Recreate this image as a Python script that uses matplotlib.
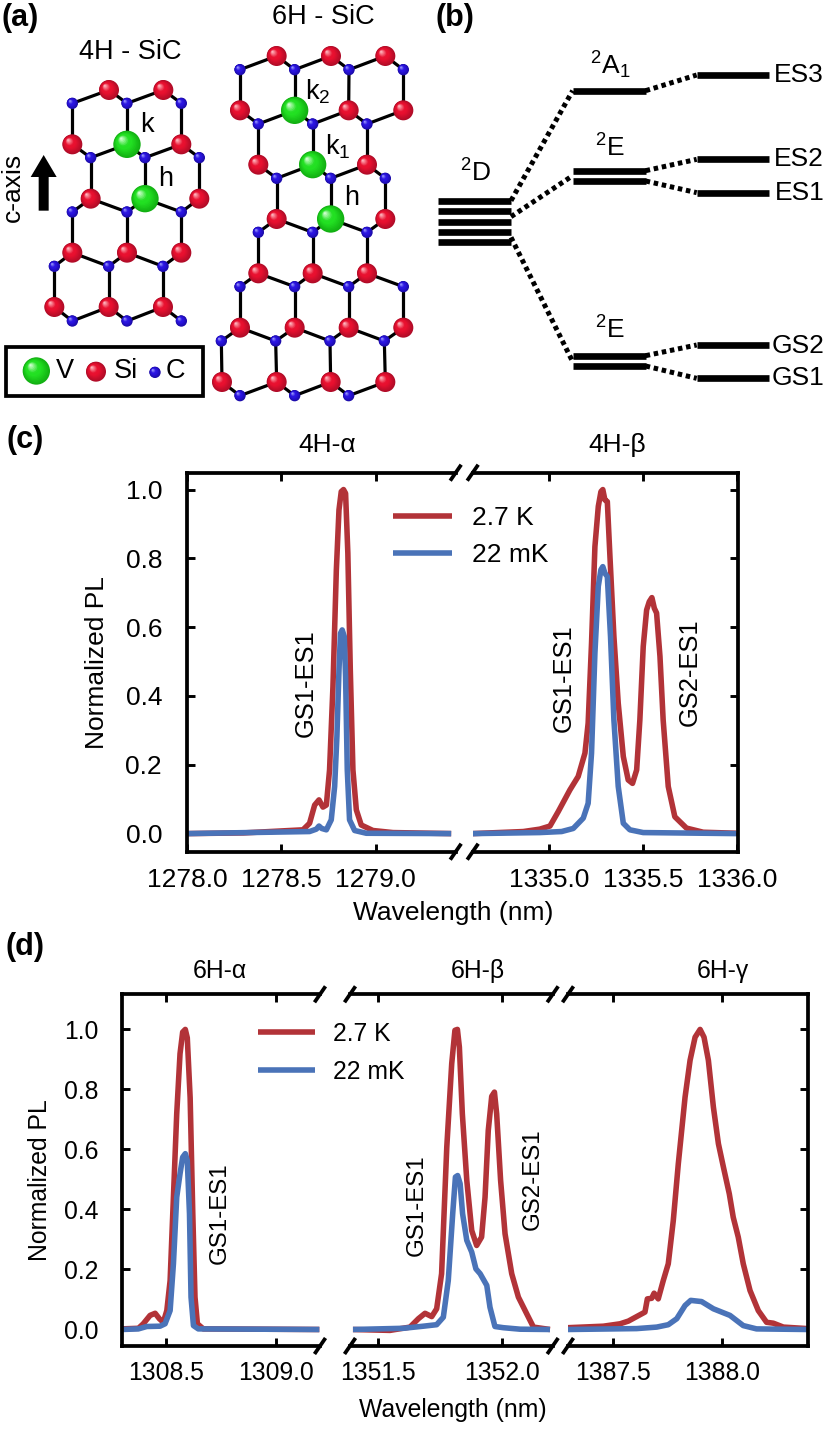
import numpy as np
import matplotlib
matplotlib.use("Agg")
import matplotlib.pyplot as plt
from matplotlib.patches import Circle, Rectangle
from matplotlib.colors import to_rgb

plt.rcParams['font.family'] = ['Liberation Sans', 'DejaVu Sans']
plt.rcParams['mathtext.default'] = 'regular'

W, H = 830, 1447
RED = '#B23338'
BLUE = '#4A73B8'
LEG = ['2.7 K', '22 mK']

# panel (c), 4H-alpha
c1_red_x = [1278.0, 1278.3, 1278.615, 1278.650, 1278.677, 1278.700, 1278.721, 1278.739, 1278.756, 1278.774, 1278.792, 1278.806, 1278.818, 1278.830, 1278.841, 1278.853, 1278.866, 1278.880, 1278.898, 1278.924, 1278.986, 1279.092, 1279.401]
c1_red_y = [0.0, 0.002, 0.011, 0.03, 0.083, 0.098, 0.077, 0.083, 0.185, 0.427, 0.766, 0.941, 0.994, 1.0, 0.989, 0.815, 0.476, 0.185, 0.069, 0.025, 0.009, 0.003, 0.0]
c1_blue_x = [1278.0, 1278.650, 1278.686, 1278.700, 1278.714, 1278.739, 1278.765, 1278.783, 1278.795, 1278.806, 1278.814, 1278.823, 1278.834, 1278.841, 1278.850, 1278.862, 1278.889, 1278.951, 1279.401]
c1_blue_y = [0.0, 0.006, 0.013, 0.022, 0.015, 0.011, 0.040, 0.137, 0.282, 0.476, 0.582, 0.592, 0.573, 0.457, 0.185, 0.040, 0.009, 0.001, 0.0]

# panel (c), 4H-beta
c2_red_x = [1334.594, 1334.862, 1334.950, 1335.004, 1335.048, 1335.110, 1335.154, 1335.190, 1335.207, 1335.225, 1335.243, 1335.261, 1335.275, 1335.285, 1335.296, 1335.309, 1335.323, 1335.344, 1335.367, 1335.394, 1335.420, 1335.443, 1335.465, 1335.482, 1335.500, 1335.518, 1335.532, 1335.546, 1335.559, 1335.571, 1335.589, 1335.606, 1335.633, 1335.668, 1335.730, 1335.819, 1335.996]
c2_red_y = [0.0, 0.006, 0.013, 0.022, 0.064, 0.127, 0.166, 0.234, 0.321, 0.553, 0.834, 0.951, 0.994, 1.0, 0.970, 0.965, 0.805, 0.573, 0.379, 0.224, 0.156, 0.146, 0.185, 0.330, 0.544, 0.650, 0.674, 0.686, 0.655, 0.641, 0.515, 0.330, 0.137, 0.049, 0.016, 0.004, 0.001]
c2_blue_x = [1334.594, 1334.950, 1335.066, 1335.128, 1335.181, 1335.207, 1335.225, 1335.243, 1335.261, 1335.275, 1335.285, 1335.296, 1335.309, 1335.326, 1335.344, 1335.367, 1335.394, 1335.429, 1335.500, 1335.996]
c2_blue_y = [0.0, 0.003, 0.006, 0.015, 0.045, 0.088, 0.234, 0.525, 0.719, 0.767, 0.776, 0.757, 0.747, 0.573, 0.330, 0.137, 0.030, 0.011, 0.003, 0.0]

# panel (d), 6H-alpha
d1_red_x = [1308.3, 1308.376, 1308.398, 1308.429, 1308.452, 1308.471, 1308.489, 1308.505, 1308.520, 1308.535, 1308.550, 1308.565, 1308.577, 1308.589, 1308.598, 1308.611, 1308.623, 1308.633, 1308.644, 1308.671, 1309.198]
d1_red_y = [0.002, 0.004, 0.019, 0.047, 0.054, 0.036, 0.024, 0.063, 0.163, 0.441, 0.719, 0.919, 0.991, 1.0, 0.972, 0.772, 0.386, 0.108, 0.019, 0.002, 0.0]
d1_blue_x = [1308.3, 1308.376, 1308.414, 1308.474, 1308.497, 1308.520, 1308.535, 1308.550, 1308.565, 1308.577, 1308.589, 1308.598, 1308.608, 1308.615, 1308.626, 1308.648, 1309.198]
d1_blue_y = [0.0, 0.002, 0.010, 0.011, 0.019, 0.063, 0.219, 0.441, 0.519, 0.574, 0.586, 0.563, 0.386, 0.108, 0.013, 0.002, 0.0]

# panel (d), 6H-beta
d2_red_x = [1351.397, 1351.547, 1351.628, 1351.662, 1351.689, 1351.716, 1351.736, 1351.756, 1351.777, 1351.797, 1351.810, 1351.820, 1351.828, 1351.840, 1351.858, 1351.878, 1351.898, 1351.918, 1351.932, 1351.945, 1351.959, 1351.970, 1351.979, 1351.995, 1352.013, 1352.040, 1352.067, 1352.101, 1352.128, 1352.195]
d2_red_y = [0.0, -0.003, 0.008, 0.036, 0.054, 0.043, 0.069, 0.186, 0.608, 0.886, 0.997, 1.0, 0.941, 0.719, 0.497, 0.330, 0.280, 0.308, 0.441, 0.663, 0.777, 0.791, 0.719, 0.497, 0.319, 0.186, 0.108, 0.052, 0.008, 0.0]
d2_blue_x = [1351.397, 1351.601, 1351.682, 1351.736, 1351.763, 1351.783, 1351.801, 1351.812, 1351.821, 1351.831, 1351.841, 1351.858, 1351.878, 1351.895, 1351.912, 1351.939, 1351.952, 1351.972, 1352.006, 1352.074, 1352.195]
d2_blue_y = [0.0, 0.004, 0.011, 0.016, 0.041, 0.163, 0.386, 0.508, 0.513, 0.486, 0.386, 0.297, 0.258, 0.202, 0.186, 0.147, 0.074, 0.010, 0.006, 0.001, 0.0]

# panel (d), 6H-gamma
d3_red_x = [1387.292, 1387.454, 1387.531, 1387.569, 1387.607, 1387.645, 1387.656, 1387.676, 1387.687, 1387.706, 1387.729, 1387.752, 1387.775, 1387.798, 1387.829, 1387.852, 1387.875, 1387.898, 1387.916, 1387.936, 1387.959, 1387.982, 1388.005, 1388.032, 1388.050, 1388.073, 1388.096, 1388.127, 1388.165, 1388.203, 1388.234, 1388.280, 1388.390]
d3_red_y = [0.006, 0.011, 0.019, 0.028, 0.043, 0.058, 0.102, 0.104, 0.121, 0.102, 0.163, 0.219, 0.363, 0.552, 0.774, 0.897, 0.974, 1.0, 0.974, 0.897, 0.741, 0.619, 0.541, 0.452, 0.374, 0.308, 0.219, 0.130, 0.063, 0.024, 0.021, 0.008, 0.003]
d3_blue_x = [1387.292, 1387.607, 1387.699, 1387.752, 1387.791, 1387.829, 1387.855, 1387.905, 1387.959, 1388.035, 1388.096, 1388.157, 1388.390]
d3_blue_y = [0.0, 0.003, 0.008, 0.016, 0.036, 0.080, 0.097, 0.093, 0.069, 0.047, 0.013, 0.002, 0.0]

# crystal lattices, units are thirds of a pixel
si_4h = [(327, 270), (490, 270), (217, 433), (544, 433), (272, 596), (598, 596), (217, 758), (381, 758), (544, 758), (163, 921), (326, 921), (489, 921)]
v_4h = [(381, 433), (435, 596)]
c_4h = [(217, 310), (381, 310), (544, 310), (272, 473), (435, 473), (598, 473), (217, 636), (381, 636), (544, 636), (163, 799), (326, 799), (489, 799), (217, 963), (381, 963), (544, 963)]
si_6h = [(830, 168), (993, 168), (1156, 168), (720, 331), (1046, 331), (1210, 331), (775, 494), (1101, 494), (830, 657), (1156, 657), (775, 820), (938, 820), (1101, 820), (720, 983), (884, 983), (1046, 983), (1210, 983), (666, 1146), (830, 1146), (992, 1146), (1156, 1146)]
v_6h = [(884, 331), (938, 494), (992, 657)]
c_6h = [(720, 209), (884, 209), (1047, 209), (1210, 209), (775, 372), (938, 372), (1101, 372), (830, 535), (992, 535), (1156, 535), (775, 697), (938, 697), (1101, 697), (720, 860), (884, 860), (1046, 860), (1210, 860), (664, 1023), (827, 1023), (990, 1023), (1153, 1023), (720, 1187), (884, 1187), (1046, 1187)]

# energy levels, (x start, x end, y), thirds of a pixel
levels = [(25, 243, 512), (25, 243, 543), (25, 243, 575), (25, 243, 606), (25, 243, 637),
          (428, 647, 182), (428, 647, 422), (428, 647, 453), (428, 647, 977), (428, 647, 1008),
          (800, 1018, 135), (800, 1018, 388), (800, 1018, 488), (800, 1018, 945), (800, 1018, 1045)]
links = [((243, 512), (428, 182)), ((243, 560), (428, 437)), ((243, 622), (428, 995)),
         ((647, 182), (800, 135)), ((647, 422), (800, 388)), ((647, 453), (800, 488)),
         ((647, 977), (800, 945)), ((647, 1008), (800, 1045))]


def px_axes(left, right, top, bottom):
    return fig.add_axes([left / W, 1 - bottom / H, (right - left) / W, (bottom - top) / H])


def px_text(x, y, s, **kw):
    kw.setdefault('ha', 'center')
    kw.setdefault('va', 'center')
    fig.text(x / W, 1 - y / H, s, **kw)


def ball(ax, x, y, r, dark, base, light):
    # shaded sphere from stacked discs
    dark, base, light = [np.array(to_rgb(c)) for c in (dark, base, light)]
    n = 14
    for i in range(n):
        t = i / (n - 1)
        col = dark + (base - dark) * min(t / 0.45, 1) + (light - base) * max(t - 0.6, 0) / 0.4
        off = 0.42 * r * t
        ax.add_patch(Circle((x - off, y - off), r * (1 - t * 0.93), fc=col, ec='none', zorder=3 + i * 0.01))


def si(ax, x, y, r=30):
    ball(ax, x, y, r, '#B00C28', '#E8102F', '#FFB8C0')


def va(ax, x, y, r=41):
    ball(ax, x, y, r, '#12B012', '#22E022', '#D0FFD0')


def cc(ax, x, y, r=17):
    ball(ax, x, y, r, '#1C0CA8', '#2A14E0', '#A0A0FF')


def lattice(ax, si_list, v_list, c_list):
    # bonds join each Si or V site to its close C neighbours
    for a in si_list + v_list:
        for b in c_list:
            if np.hypot(a[0] - b[0], a[1] - b[1]) < 130:
                ax.plot([a[0], b[0]], [a[1], b[1]], color='k', lw=2.3, zorder=2, solid_capstyle='round')
    for p in c_list:
        cc(ax, *p)
    for p in si_list:
        si(ax, *p)
    for p in v_list:
        va(ax, *p)


def segment(left, right, top, bottom, xlim, ylim, xticks, first=False, last=False, size=19, pad_x=11.5, pad_y=18):
    ax = px_axes(left, right, top, bottom)
    ax.set_xlim(*xlim)
    ax.set_ylim(*ylim)
    ax.set_xticks(xticks)
    ax.set_xticklabels(['%.1f' % t for t in xticks])
    ax.set_yticks([0, 0.2, 0.4, 0.6, 0.8, 1.0])
    for name in ax.spines:
        ax.spines[name].set_linewidth(2.7)
    ax.spines['left'].set_visible(first)
    ax.spines['right'].set_visible(last)
    ax.tick_params(axis='x', direction='in', top=True, length=5.5, width=2.1, labelsize=size, pad=pad_x)
    ax.tick_params(axis='y', direction='in', left=first, right=last, labelleft=first, length=5.5, width=2.1, labelsize=size, pad=pad_y)
    ax.patch.set_alpha(0)
    return ax


def break_marks(x_list, top, bottom):
    # slanted marks over the gaps in the frame
    ov = fig.add_axes([0, 0, 1, 1], xlim=(0, W), ylim=(H, 0), zorder=10)
    ov.axis('off')
    for x in x_list:
        for y in (top, bottom):
            ov.plot([x - 5.5, x + 5.5], [y + 8, y - 8], color='k', lw=2.7, solid_capstyle='butt')


def curves(ax, rx, ry, bx, by):
    ax.plot(rx, ry, color=RED, lw=4.0, label=LEG[0], solid_capstyle='butt', solid_joinstyle='round')
    ax.plot(bx, by, color=BLUE, lw=4.0, label=LEG[1], solid_capstyle='butt', solid_joinstyle='round')


fig = plt.figure(figsize=(W / 100, H / 100), dpi=100, facecolor='white')

# (a) lattices and (b) level scheme
axa = px_axes(0, 430, 0, 410)
axa.set_xlim(0, 1290)
axa.set_ylim(1230, 0)
axa.axis('off')
lattice(axa, si_4h, v_4h, c_4h)
lattice(axa, si_6h, v_6h, c_6h)
for x, y, s in [(390, 157, '4H - SiC'), (970, 50, '6H - SiC'), (440, 375, 'k'), (498, 538, 'h'),
                (953, 275, 'k$_2$'), (1012, 440, 'k$_1$'), (1055, 595, 'h')]:
    axa.text(x, y, s, ha='center', va='center', fontsize=19.5)
axa.text(38, 562, 'c-axis', rotation=90, ha='center', va='center', fontsize=19)
axa.arrow(131, 632, 0, -167, width=30, head_width=78, head_length=66, length_includes_head=True, fc='k', ec='none')
axa.add_patch(Rectangle((17, 1040), 593, 147, fc='none', ec='k', lw=2.7))
va(axa, 109, 1113)
si(axa, 288, 1115)
cc(axa, 465, 1117)
for x, s in [(195, 'V'), (378, 'Si'), (525, 'C')]:
    axa.text(x, 1113, s, ha='center', va='center', fontsize=19.5)

axb = px_axes(430, 830, 30, 400)
axb.set_xlim(0, 1200)
axb.set_ylim(1110, 0)
axb.axis('off')
for x0, x1, y in levels:
    axb.plot([x0, x1], [y, y], color='k', lw=4.8, solid_capstyle='butt')
for a, b in links:
    axb.plot([a[0], b[0]], [a[1], b[1]], color='k', lw=3.6, ls=(0, (0.9, 0.75)), dash_capstyle='butt')
for x, y, s in [(135, 430, '$^2$D'), (540, 105, '$^2$A$_1$'), (538, 355, '$^2$E'), (538, 900, '$^2$E'),
                (1105, 135, 'ES3'), (1105, 388, 'ES2'), (1108, 490, 'ES1'), (1105, 948, 'GS2'), (1105, 1045, 'GS1')]:
    axb.text(x, y, s, ha='center', va='center', fontsize=19)

# panel letters
for x, y, s in [(20, 18, '(a)'), (455, 18, '(b)'), (25, 440, '(c)'), (25, 947, '(d)')]:
    px_text(x, y, s, fontsize=22, fontweight='bold')

# (c)
c1 = segment(187, 455.7, 472.7, 851.7, (1278.0, 1279.425), (-0.0526, 1.049), [1278.0, 1278.5, 1279.0], first=True)
c2 = segment(472.7, 738, 472.7, 851.7, (1334.593, 1336.004), (-0.0526, 1.049), [1335.0, 1335.5, 1336.0], last=True)
curves(c1, c1_red_x, c1_red_y, c1_blue_x, c1_blue_y)
curves(c2, c2_red_x, c2_red_y, c2_blue_x, c2_blue_y)
c1.set_ylabel('Normalized PL', fontsize=19, va='center')
c1.yaxis.set_label_coords(97 / W, 1 - 663 / H, transform=fig.transFigure)
c1.set_xlabel('Wavelength (nm)', fontsize=19, va='center')
c1.xaxis.set_label_coords(453 / W, 1 - 913 / H, transform=fig.transFigure)
c1.legend(loc='upper left', bbox_to_anchor=(392.7 / W, 1 - 506 / H), bbox_transform=fig.transFigure, frameon=False,
          fontsize=19, borderaxespad=0, borderpad=0, handlelength=2.24, handletextpad=0.76, labelspacing=0.5)
break_marks([455.7, 472.7], 472.7, 851.7)
px_text(327, 445, '4H-α', fontsize=19)
px_text(617, 445, '4H-β', fontsize=19)
px_text(306, 683, 'GS1-ES1', fontsize=18.4, rotation=90)
px_text(564, 678, 'GS1-ES1', fontsize=18.4, rotation=90)
px_text(690, 672, 'GS2-ES1', fontsize=18.4, rotation=90)

# (d)
d1 = segment(121.7, 320, 994.3, 1346, (1308.3, 1309.201), (-0.055, 1.117), [1308.5, 1309.0], first=True, size=17.8, pad_x=11, pad_y=17)
d2 = segment(350, 552.7, 994.3, 1346, (1351.385, 1352.206), (-0.055, 1.117), [1351.5, 1352.0], size=17.8, pad_x=11)
d3 = segment(568, 808, 994.3, 1346, (1387.292, 1388.393), (-0.055, 1.117), [1387.5, 1388.0], last=True, size=17.8, pad_x=11)
curves(d1, d1_red_x, d1_red_y, d1_blue_x, d1_blue_y)
curves(d2, d2_red_x, d2_red_y, d2_blue_x, d2_blue_y)
curves(d3, d3_red_x, d3_red_y, d3_blue_x, d3_blue_y)
d1.set_ylabel('Normalized PL', fontsize=17.8, va='center')
d1.yaxis.set_label_coords(40 / W, 1 - 1180 / H, transform=fig.transFigure)
d1.set_xlabel('Wavelength (nm)', fontsize=17.8, va='center')
d1.xaxis.set_label_coords(453 / W, 1 - 1410 / H, transform=fig.transFigure)
d1.legend(loc='upper left', bbox_to_anchor=(258 / W, 1 - 1022 / H), bbox_transform=fig.transFigure, frameon=False,
          fontsize=17.8, borderaxespad=0, borderpad=0, handlelength=2.3, handletextpad=0.75, labelspacing=0.55)
break_marks([320, 350, 552.7, 568], 994.3, 1346)
px_text(220, 971, '6H-α', fontsize=17.8)
px_text(478, 971, '6H-β', fontsize=17.8)
px_text(723, 971, '6H-γ', fontsize=17.8)
px_text(220, 1213, 'GS1-ES1', fontsize=17.3, rotation=90)
px_text(417, 1205, 'GS1-ES1', fontsize=17.3, rotation=90)
px_text(533, 1179, 'GS2-ES1', fontsize=17.3, rotation=90)

fig.savefig('out.png', dpi=100)
